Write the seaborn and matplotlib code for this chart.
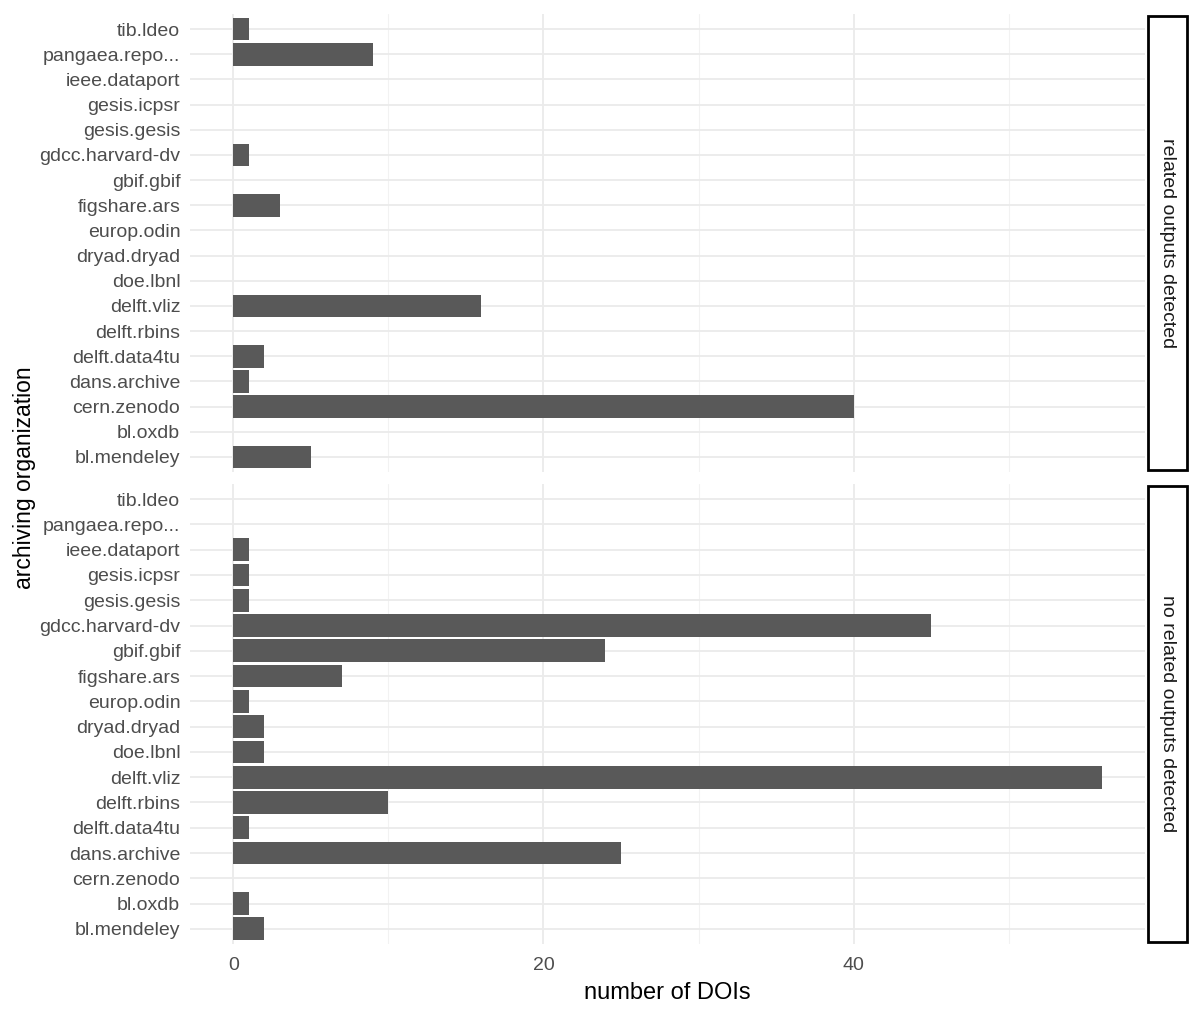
import numpy as np
import pandas as pd
import matplotlib
matplotlib.use("Agg")
import matplotlib.pyplot as plt
import seaborn as sns
from matplotlib.patches import Rectangle

orgs = ['tib.ldeo', 'pangaea.repo...', 'ieee.dataport', 'gesis.icpsr', 'gesis.gesis',
        'gdcc.harvard-dv', 'gbif.gbif', 'figshare.ars', 'europ.odin', 'dryad.dryad',
        'doe.lbnl', 'delft.vliz', 'delft.rbins', 'delft.data4tu', 'dans.archive',
        'cern.zenodo', 'bl.oxdb', 'bl.mendeley']
related = [1, 9, 0, 0, 0, 1, 0, 3, 0, 0, 0, 16, 0, 2, 1, 40, 0, 5]
no_related = [0, 0, 1, 1, 1, 45, 24, 7, 1, 2, 2, 56, 10, 1, 25, 0, 1, 2]
facets = ['related outputs detected', 'no related outputs detected']

df = pd.concat([
    pd.DataFrame({'org': orgs, 'n': related, 'facet': facets[0]}),
    pd.DataFrame({'org': orgs, 'n': no_related, 'facet': facets[1]}),
])

sns.set_style('white')
plt.rcParams['font.family'] = ['Liberation Sans', 'DejaVu Sans']

fig = plt.figure(figsize=(12, 10.17), dpi=100)
W, H = 1200, 1017
panels = [(14, 472), (484, 944)]
x0, x1 = 190, 1145
xmax = max(max(related), max(no_related))
pad = xmax * 0.05

for (top, bot), facet in zip(panels, facets):
    ax = fig.add_axes([x0 / W, 1 - bot / H, (x1 - x0) / W, (bot - top) / H])
    sub = df[df['facet'] == facet]
    sns.barplot(data=sub, x='n', y='org', order=orgs, orient='h', width=0.9,
                color='#595959', saturation=1, linewidth=0,
                errorbar=None, ax=ax, zorder=3)
    ax.set_xlim(-pad, xmax + pad)
    ax.set_ylim(len(orgs) - 0.4, -0.6)
    ax.set_xticks([0, 20, 40])
    ax.set_xticks([10, 30, 50], minor=True)
    ax.grid(axis='x', which='major', color='#EBEBEB', linewidth=1.3, zorder=0)
    ax.grid(axis='x', which='minor', color='#F2F2F2', linewidth=0.8, zorder=0)
    ax.grid(axis='y', which='major', color='#EBEBEB', linewidth=1.3, zorder=0)
    for s in ax.spines.values():
        s.set_visible(False)
    ax.tick_params(axis='both', which='both', length=0, labelsize=14,
                   labelcolor='#4D4D4D')
    ax.tick_params(axis='x', pad=9)
    ax.tick_params(axis='y', pad=7)
    ax.set_ylabel('')
    ax.set_xlabel('')
    if facet == facets[0]:
        ax.set_xticklabels([])
    # strip on the right
    sx0, sx1 = 1148 / W, 1187 / W
    fig.patches.append(Rectangle((sx0, 1 - (bot - 2) / H), sx1 - sx0, (bot - top - 4) / H,
                                 transform=fig.transFigure, facecolor='white',
                                 edgecolor='black', linewidth=2))
    fig.text((sx0 + sx1) / 2, 1 - (top + bot) / 2 / H, facet, rotation=-90,
             ha='center', va='center', fontsize=14, color='#1A1A1A')

fig.text((x0 + x1) / 2 / W, 1 - 993 / H, 'number of DOIs', ha='center', va='center',
         fontsize=17, color='black')
fig.text(25 / W, 1 - 478 / H, 'archiving organization', rotation=90, ha='center',
         va='center', fontsize=16.5, color='black')

fig.savefig('out.png', dpi=100)
